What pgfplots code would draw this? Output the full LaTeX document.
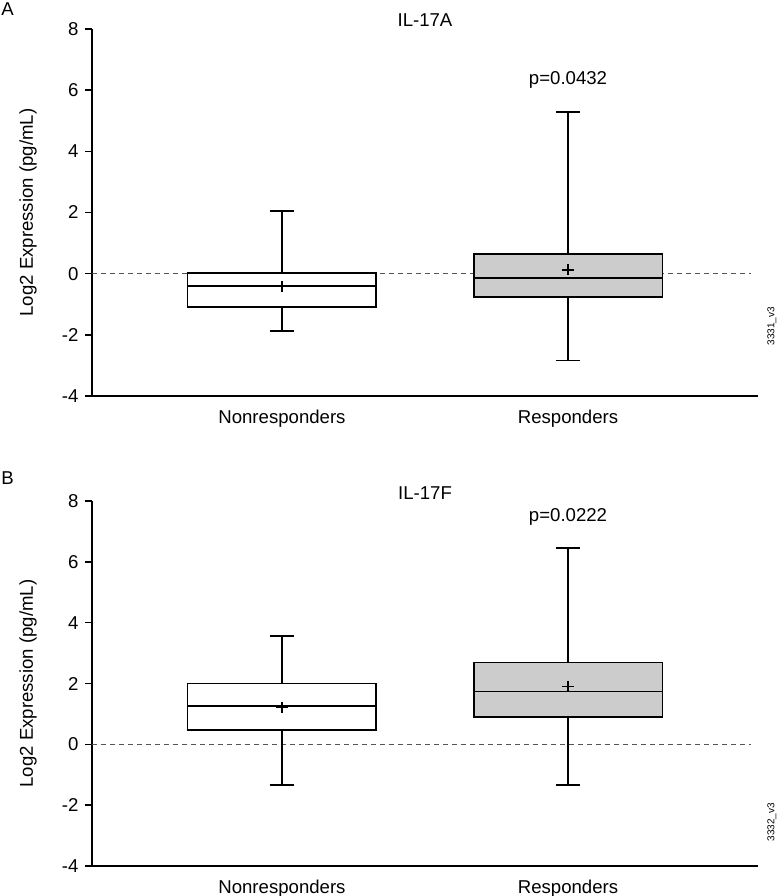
\documentclass[border=0pt]{standalone}
\usepackage{fontspec}
\setmainfont{Liberation Sans}
\usepackage{pgfplots}
\pgfplotsset{compat=1.18}
\usepgfplotslibrary{statistics}

\definecolor{boxgray}{HTML}{CCCCCC}
\definecolor{zerogray}{HTML}{555555}

\pgfplotsset{
  panel/.style={
    scale only axis,
    width=333pt,
    xmin=0.336, xmax=2.664,
    ymin=-4, ymax=8,
    boxplot/draw direction=y,
    axis x line*=bottom,
    axis y line*=left,
    axis line style={line width=0.9pt},
    xtick={1,2},
    xticklabels={Nonresponders,Responders},
    xtick style={draw=none},
    xticklabel style={yshift=0pt},
    ytick={-4,-2,0,2,4,6,8},
    yticklabels={-4,-2,0,2,4,6,8},
    tick align=outside,
    major tick length=3.5pt,
    ytick style={line width=0.8pt, black},
    tick label style={font=\fontsize{9.3}{11}\selectfont},
    ylabel={Log2 Expression (pg/mL)},
    ylabel style={at={(axis description cs:-0.096,0.5)}, anchor=center,
      font=\fontsize{9.3}{11}\selectfont},
    title style={at={(axis description cs:0.5,1)}, anchor=base, yshift=-5pt,
      font=\fontsize{9.3}{11}\selectfont},
    clip=false,
  },
  bx/.style={draw=black, line width=0.9pt, solid},
}

\begin{document}
\fontsize{9.3}{11}\selectfont
\begin{tikzpicture}
\useasboundingbox (0,0) rectangle (388.5pt,-448pt);

\node[anchor=base west, inner sep=0pt] at (0.5pt,-7.8pt) {A};
\node[anchor=base west, inner sep=0pt] at (0.5pt,-242pt) {B};

% panel A: IL-17A
\begin{axis}[panel, height=183.5pt, at={(46pt,-198pt)}, anchor=south west,
  title={IL-17A}]
\addplot[zerogray, dashed, dash pattern=on 2.5pt off 2pt, line width=0.5pt]
  coordinates {(0.336,0) (2.64,0)};
\addplot[bx, fill=white, boxplot prepared={draw position=1,
  lower whisker=-1.88, lower quartile=-1.08, median=-0.41,
  upper quartile=0.02, upper whisker=2.05,
  box extend=0.66, whisker extend=0.086}] coordinates {};
\addplot[bx, fill=boxgray, boxplot prepared={draw position=2,
  lower whisker=-2.84, lower quartile=-0.75, median=-0.13,
  upper quartile=0.65, upper whisker=5.28,
  box extend=0.66, whisker extend=0.086}] coordinates {};
\addplot[only marks, mark=+, mark size=2.8pt, line width=0.9pt, black]
  coordinates {(1,-0.42) (2,0.13)};
\node at (axis cs:2,6.32) {p=0.0432};
\node[rotate=90, font=\fontsize{5}{6}\selectfont] at (rel axis cs:1.021,0.19) {3331\_v3};
\end{axis}

% panel B: IL-17F
\begin{axis}[panel, height=182.5pt, at={(46pt,-433pt)}, anchor=south west,
  title={IL-17F}]
\addplot[zerogray, dashed, dash pattern=on 2.5pt off 2pt, line width=0.5pt]
  coordinates {(0.336,0) (2.64,0)};
\addplot[bx, fill=white, boxplot prepared={draw position=1,
  lower whisker=-1.34, lower quartile=0.46, median=1.25,
  upper quartile=2.0, upper whisker=3.57,
  box extend=0.66, whisker extend=0.086}] coordinates {};
\addplot[bx, fill=boxgray, boxplot prepared={draw position=2,
  lower whisker=-1.34, lower quartile=0.89, median=1.74,
  upper quartile=2.69, upper whisker=6.46,
  box extend=0.66, whisker extend=0.086}] coordinates {};
\addplot[only marks, mark=+, mark size=2.8pt, line width=0.9pt, black]
  coordinates {(1,1.22) (2,1.9)};
\node at (axis cs:2,7.47) {p=0.0222};
\node[rotate=90, font=\fontsize{5}{6}\selectfont] at (rel axis cs:1.021,0.12) {3332\_v3};
\end{axis}
\end{tikzpicture}
\end{document}
